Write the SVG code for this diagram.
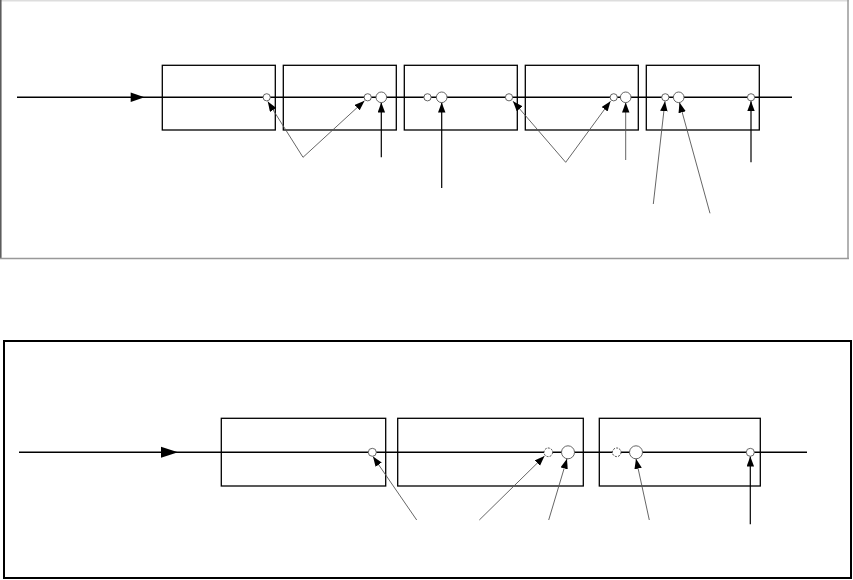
<svg xmlns="http://www.w3.org/2000/svg" width="853" height="580" viewBox="0 0 853 580">
<style>
.box{fill:none;stroke:#000;stroke-width:1.3}
.main{stroke:#000;stroke-width:1.4;fill:none}
.thin{stroke:#555;stroke-width:0.9;fill:none}
.vert{stroke:#000;stroke-width:1.2;fill:none}
.c{fill:#fff;stroke:#555;stroke-width:0.9}
.cd{fill:#fff;stroke:#333;stroke-width:0.9;stroke-dasharray:2,1.2}
</style>
<defs>
<marker id="ah" markerUnits="userSpaceOnUse" markerWidth="11" markerHeight="8" refX="10" refY="3.75" orient="auto">
<path d="M0,0 L10,3.75 L0,7.5 z" fill="#000"/>
</marker>
</defs>
<rect width="853" height="580" fill="#fff"/>
<!-- top frame -->
<g id="frame-top">
<line x1="0" y1="0.8" x2="849" y2="0.8" stroke="#ddd" stroke-width="1.5"/>
<line x1="0.8" y1="0" x2="0.8" y2="259" stroke="#555" stroke-width="1.5"/>
<line x1="848" y1="0" x2="848" y2="259" stroke="#999" stroke-width="1.5"/>
<line x1="0" y1="258.5" x2="849" y2="258.5" stroke="#999" stroke-width="1.5"/>
</g>
<g id="frame-bottom">
<rect x="4" y="341" width="847" height="237" fill="none" stroke="#000" stroke-width="2"/>
</g>
<!-- top boxes -->
<g id="t-box1"><rect class="box" x="162.3" y="65.3" width="113" height="64.7"/></g>
<g id="t-box2"><rect class="box" x="283.3" y="65.3" width="113" height="64.7"/></g>
<g id="t-box3"><rect class="box" x="404.3" y="65.3" width="113" height="64.7"/></g>
<g id="t-box4"><rect class="box" x="525.3" y="65.3" width="113" height="64.7"/></g>
<g id="t-box5"><rect class="box" x="646.3" y="65.3" width="113" height="64.7"/></g>
<!-- bottom boxes -->
<g id="b-box1"><rect class="box" x="221.3" y="418.3" width="164.4" height="67.7"/></g>
<g id="b-box2"><rect class="box" x="397.7" y="418.3" width="185.6" height="67.7"/></g>
<g id="b-box3"><rect class="box" x="599.3" y="418.3" width="161" height="67.7"/></g>
<g id="connectors">
<!-- top main line -->
<line class="main" x1="17" y1="97.3" x2="792" y2="97.3"/>
<polygon points="130.7,92.5 144.5,97.3 130.7,102.1" fill="#000"/>
<!-- bottom main line -->
<line class="main" x1="19" y1="452.3" x2="807" y2="452.3"/>
<polygon points="161,446.8 178,452.3 161,457.8" fill="#000"/>
<!-- top connectors -->
<line class="thin" x1="303" y1="157.3" x2="267.8" y2="101.5" marker-end="url(#ah)"/>
<line class="thin" x1="303" y1="157.3" x2="364.5" y2="100.8" marker-end="url(#ah)"/>
<line class="vert" x1="381.3" y1="157.3" x2="381.3" y2="102.6" marker-end="url(#ah)"/>
<line class="vert" x1="441.7" y1="188" x2="441.7" y2="102.6" marker-end="url(#ah)"/>
<line class="thin" x1="565.7" y1="162.3" x2="513" y2="101.2" marker-end="url(#ah)"/>
<line class="thin" x1="565.7" y1="162.3" x2="610.5" y2="101.2" marker-end="url(#ah)"/>
<line class="thin" x1="625.7" y1="160" x2="625.7" y2="102.6" marker-end="url(#ah)"/>
<line class="thin" x1="653.3" y1="204" x2="665" y2="101.2" marker-end="url(#ah)"/>
<line class="thin" x1="710" y1="213.3" x2="679.5" y2="102.6" marker-end="url(#ah)"/>
<line class="vert" x1="751" y1="162.3" x2="751" y2="101.2" marker-end="url(#ah)"/>
<!-- bottom connectors -->
<line class="thin" x1="416.7" y1="520" x2="373" y2="456.5" marker-end="url(#ah)"/>
<line class="thin" x1="479.3" y1="520" x2="544.5" y2="456" marker-end="url(#ah)"/>
<line class="thin" x1="548.7" y1="520" x2="567" y2="458.8" marker-end="url(#ah)"/>
<line class="thin" x1="649.3" y1="520" x2="636" y2="458.8" marker-end="url(#ah)"/>
<line class="vert" x1="750.3" y1="524.3" x2="750.3" y2="456.5" marker-end="url(#ah)"/>
</g>
<!-- top circles -->
<g id="t-circles">
<circle class="c" cx="266.7" cy="97.3" r="3.6"/>
<circle class="c" cx="367.7" cy="97.3" r="3.6"/>
<circle class="c" cx="381.3" cy="97.3" r="5.3"/>
<circle class="c" cx="427.5" cy="97.3" r="3.6"/>
<circle class="c" cx="441.7" cy="97.3" r="5.3"/>
<circle class="c" cx="509" cy="97.3" r="3.6"/>
<circle class="c" cx="613.7" cy="97.3" r="3.6"/>
<circle class="c" cx="625.7" cy="97.3" r="5.3"/>
<circle class="c" cx="665.3" cy="97.3" r="3.6"/>
<circle class="c" cx="678.7" cy="97.3" r="5.3"/>
<circle class="c" cx="751" cy="97.3" r="3.6"/>
</g>
<!-- bottom circles -->
<g id="b-circles">
<circle class="c" cx="372.3" cy="452.3" r="4"/>
<circle class="cd" cx="548.3" cy="452.3" r="4.3"/>
<circle class="c" cx="568" cy="452.3" r="6.5"/>
<circle class="cd" cx="616.7" cy="452.3" r="4.3"/>
<circle class="c" cx="636" cy="452.3" r="6.5"/>
<circle class="c" cx="750.3" cy="452.3" r="4"/>
</g>
</svg>
